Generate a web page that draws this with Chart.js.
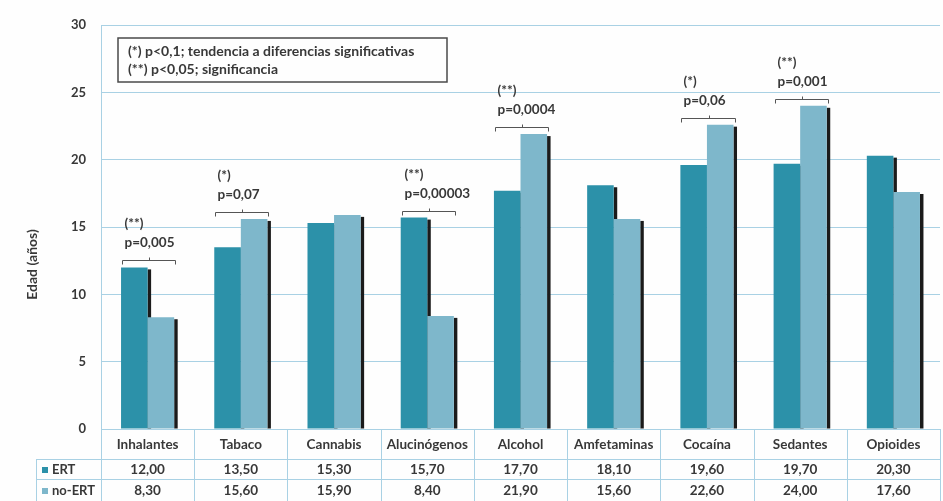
<!DOCTYPE html>
<html lang="es">

<head>
   <meta charset="UTF-8">
   <title>Edad de inicio por sustancia: ERT vs no-ERT</title>
   <script src="https://cdn.jsdelivr.net/npm/chart.js@4.4.0/dist/chart.umd.min.js"></script>
   <style>
      body { margin: 0; background: #fefefe; }
      #wrap { width: 943px; height: 501px; }
   </style>
</head>

<body>
   <div id="wrap"><canvas id="myChart" width="943" height="501"></canvas></div>
   <script>
      const categories = ['Inhalantes', 'Tabaco', 'Cannabis', 'Alucinógenos', 'Alcohol', 'Amfetaminas', 'Cocaína', 'Sedantes', 'Opioides'];
      const ertData = [12.00, 13.50, 15.30, 15.70, 17.70, 18.10, 19.60, 19.70, 20.30];
      const noErtData = [8.30, 15.60, 15.90, 8.40, 21.90, 15.60, 22.60, 24.00, 17.60];
      const sigMarks = ['(**)', '(*)', null, '(**)', '(**)', null, '(*)', '(**)', null];
      const pValues = ['p=0,005', 'p=0,07', null, 'p=0,00003', 'p=0,0004', null, 'p=0,06', 'p=0,001', null];
      const noteLines = ['(*) p<0,1; tendencia a diferencias significativas', '(**) p<0,05; significancia'];

      const ertColor = '#2c91a9';
      const noErtColor = '#7eb7cb';
      const lineColor = '#a9d1e4';
      const textColor = '#383838';
      const font = 'Lato, "Open Sans", sans-serif';

      function fmt(v) {
         return v.toFixed(2).replace('.', ',');
      }

      const tablePlugin = {
         id: 'tablePlugin',
         beforeDraw(chart) {
            const ctx = chart.ctx;
            ctx.save();
            ctx.fillStyle = '#fefefe';
            ctx.fillRect(0, 0, chart.width, chart.height);
            ctx.restore();
         },
         beforeDatasetsDraw(chart) {
            // dark side of the bars (3D look)
            const ctx = chart.ctx;
            ctx.save();
            ctx.fillStyle = '#1b1b1b';
            chart.data.datasets.forEach((ds, d) => {
               chart.getDatasetMeta(d).data.forEach(bar => {
                  const right = bar.x + bar.width / 2;
                  ctx.fillRect(right, bar.y + 2, 3.5, bar.base - bar.y - 2);
               });
            });
            ctx.restore();
         },
         afterDraw(chart) {
            const ctx = chart.ctx;
            const area = chart.chartArea;
            const xScale = chart.scales.x;
            const yScale = chart.scales.y;
            const colW = (area.right - area.left) / categories.length;
            const headLeft = 36;
            const row1 = area.bottom + 30;
            const row2 = row1 + 20;
            const row3 = row2 + 22;

            ctx.save();
            // table grid
            ctx.strokeStyle = lineColor;
            ctx.lineWidth = 1;
            ctx.beginPath();
            ctx.moveTo(area.left, area.bottom + 0.5);
            ctx.lineTo(area.right, area.bottom + 0.5);
            [row1, row2].forEach(y => {
               ctx.moveTo(headLeft, Math.round(y) + 0.5);
               ctx.lineTo(area.right, Math.round(y) + 0.5);
            });
            for (let k = 0; k <= categories.length; k++) {
               const x = Math.round(area.left + k * colW) + 0.5;
               ctx.moveTo(x, area.bottom);
               ctx.lineTo(x, row3);
            }
            ctx.moveTo(headLeft + 0.5, row1);
            ctx.lineTo(headLeft + 0.5, row3);
            ctx.stroke();

            // table values
            ctx.fillStyle = textColor;
            ctx.font = 'bold 13.5px ' + font;
            ctx.textAlign = 'center';
            ctx.textBaseline = 'middle';
            categories.forEach((c, i) => {
               const x = xScale.getPixelForValue(i);
               ctx.fillText(fmt(ertData[i]), x, (row1 + row2) / 2 + 1);
               ctx.fillText(fmt(noErtData[i]), x, (row2 + row3) / 2 + 1);
            });

            // row headers
            ctx.textAlign = 'left';
            ctx.fillStyle = ertColor;
            ctx.fillRect(42, (row1 + row2) / 2 - 2, 6, 6);
            ctx.fillStyle = noErtColor;
            ctx.fillRect(42, (row2 + row3) / 2 - 2, 6, 6);
            ctx.fillStyle = textColor;
            ctx.font = 'bold 13px ' + font;
            ctx.fillText('ERT', 52, (row1 + row2) / 2 + 1);
            ctx.fillText('no-ERT', 52, (row2 + row3) / 2 + 1);

            // significance brackets
            ctx.font = 'bold 13.5px ' + font;
            ctx.strokeStyle = '#555555';
            ctx.lineWidth = 1;
            categories.forEach((c, i) => {
               if (!sigMarks[i]) return;
               const b0 = chart.getDatasetMeta(0).data[i];
               const b1 = chart.getDatasetMeta(1).data[i];
               const left = Math.round(b0.x - b0.width / 2 + 1) + 0.5;
               const right = Math.round(b1.x + b1.width / 2 + 1) + 0.5;
               const top = Math.round(yScale.getPixelForValue(Math.max(ertData[i], noErtData[i])) - 7) + 0.5;
               const mid = Math.round((left + right) / 2) + 0.5;
               ctx.beginPath();
               ctx.moveTo(left, top + 4);
               ctx.lineTo(left, top);
               ctx.lineTo(right, top);
               ctx.lineTo(right, top + 4);
               ctx.moveTo(mid, top);
               ctx.lineTo(mid, top - 3);
               ctx.stroke();
               ctx.fillStyle = textColor;
               ctx.fillText(pValues[i], left + 2, top - 18);
               ctx.fillText(sigMarks[i], left + 2, top - 37);
            });

            // note box
            const boxX = area.left + 17;
            const boxY = area.top + 13;
            ctx.strokeStyle = '#4a4a4a';
            ctx.lineWidth = 1.5;
            ctx.strokeRect(boxX, boxY, 329, 44);
            ctx.fillStyle = textColor;
            ctx.font = 'bold 14px ' + font;
            ctx.fillText(noteLines[0], boxX + 10, boxY + 13);
            ctx.fillText(noteLines[1], boxX + 10, boxY + 31);

            // y axis title
            ctx.save();
            ctx.translate(32, chart.height / 2 + 14);
            ctx.rotate(-Math.PI / 2);
            ctx.textAlign = 'center';
            ctx.font = 'bold 14px ' + font;
            ctx.fillText('Edad (años)', 0, 0);
            ctx.restore();
            ctx.restore();
         }
      };

      const config = {
         type: 'bar',
         data: {
            labels: categories,
            datasets: [
               {
                  label: 'ERT',
                  data: ertData,
                  backgroundColor: ertColor,
                  categoryPercentage: 0.57,
                  barPercentage: 1.0
               },
               {
                  label: 'no-ERT',
                  data: noErtData,
                  backgroundColor: noErtColor,
                  categoryPercentage: 0.57,
                  barPercentage: 1.0
               }
            ]
         },
         options: {
            responsive: false,
            animation: false,
            layout: { padding: { top: 25, right: 3, left: 0, bottom: 0 } },
            plugins: {
               legend: { display: false },
               tooltip: { enabled: false }
            },
            scales: {
               x: {
                  grid: { display: false, drawTicks: false },
                  border: { display: false },
                  ticks: {
                     color: textColor,
                     font: { family: font, size: 13.5, weight: 'bold' },
                     padding: 8,
                     maxRotation: 0
                  },
                  afterFit(scale) { scale.height = 72; }
               },
               y: {
                  min: 0,
                  max: 30,
                  ticks: {
                     stepSize: 5,
                     color: textColor,
                     font: { family: font, size: 13, weight: 'bold' },
                     padding: 15
                  },
                  grid: { color: lineColor, drawTicks: false },
                  border: { color: lineColor },
                  afterFit(scale) { scale.width = 101; }
               }
            }
         },
         plugins: [tablePlugin]
      };

      const chart = new Chart(document.getElementById('myChart').getContext('2d'), config);
   </script>
</body>

</html>
